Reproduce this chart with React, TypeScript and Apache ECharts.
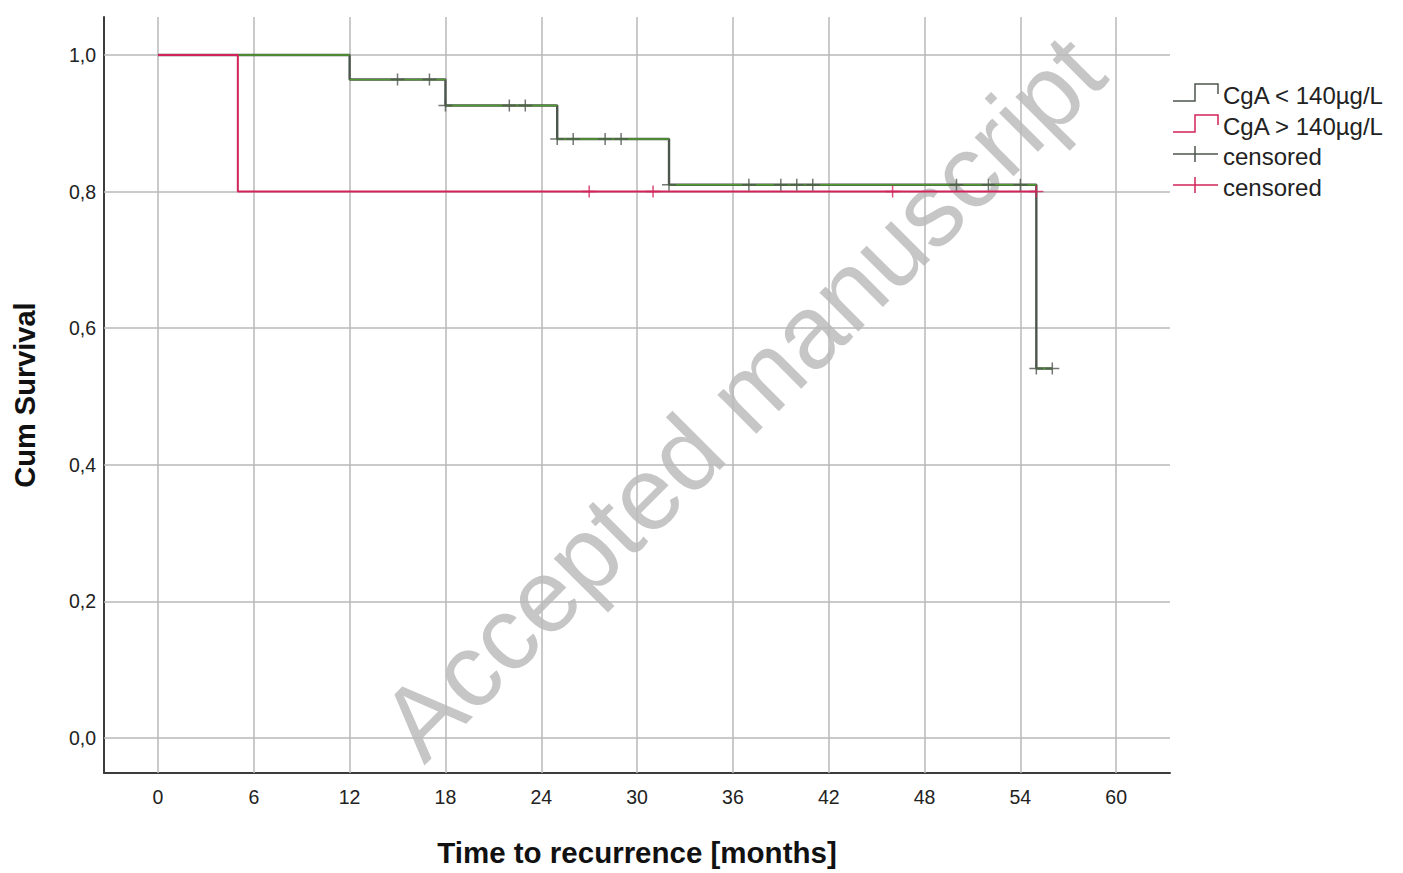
import React, { useEffect, useRef } from "react";
import * as echarts from "echarts";

// ---- data ----
const xTicks = [0, 6, 12, 18, 24, 30, 36, 42, 48, 54, 60];
const yTicks = [0, 0.2, 0.4, 0.6, 0.8, 1.0];

// CgA < 140 µg/L (green group) step curve
const lowTimes = [0, 12, 18, 25, 32, 55];
const lowSurv = [1.0, 0.964, 0.926, 0.877, 0.81, 0.541];
const lowEnd = 56;
const lowCensored = [15, 17, 18, 22, 23, 25, 26, 28, 29, 32, 37, 39, 40, 41, 50, 52, 54, 55, 56];

// CgA > 140 µg/L (red group) step curve
const highTimes = [0, 5];
const highSurv = [1.0, 0.8];
const highEnd = 55;
const highCensored = [27, 31, 46, 55];

const legendLabels = ["CgA < 140µg/L", "CgA > 140µg/L", "censored", "censored"];

const X_MIN = -3.38;
const X_MAX = 63.37;
const Y_MIN = -0.0512;
const Y_MAX = 1.0556;

const GREEN_DARK = "#4d564d";
const GREEN = "#4f9a2e";
const RED = "#d2235a";
const GRID = "#b9b9b9";
const FONT = '"Liberation Sans", Arial, sans-serif';

function stepPoints(times: number[], surv: number[], end: number) {
  const pts: (number | string)[][] = times.map((t, i) => [t, surv[i]]);
  pts.push([end, surv[surv.length - 1]]);
  return pts;
}

function horizontalSegments(times: number[], surv: number[], end: number) {
  const pts: (number | string)[][] = [];
  for (let i = 0; i < times.length; i++) {
    const next = i + 1 < times.length ? times[i + 1] : end;
    pts.push([times[i], surv[i]]);
    pts.push([next, surv[i]]);
    pts.push([next, "-"]);
  }
  return pts;
}

function survAt(times: number[], surv: number[], t: number) {
  let v = surv[0];
  for (let i = 0; i < times.length; i++) {
    if (times[i] <= t) v = surv[i];
  }
  return v;
}

const CROSS = "path://M6.25,0 H7.75 V5.25 H14 V6.75 H7.75 V12 H6.25 V6.75 H0 V5.25 H6.25 Z";

export default function App() {
  const ref = useRef<HTMLDivElement>(null);

  useEffect(() => {
    if (!ref.current) return;
    const chart = echarts.init(ref.current, null, { renderer: "svg" });

    const rowY = [95, 126, 156, 187];
    const legendGraphics: any[] = [];
    const iconColors = [GREEN_DARK, RED, GREEN_DARK, RED];
    rowY.forEach((y, i) => {
      const c = iconColors[i];
      if (i < 2) {
        legendGraphics.push({
          type: "polyline",
          shape: { points: [[1173, y + 6], [1195, y + 6], [1195, y - 11], [1218, y - 11], [1218, y - 1]] },
          style: { stroke: c, lineWidth: 1.5, fill: null },
        });
      } else {
        legendGraphics.push({
          type: "line",
          shape: { x1: 1173, y1: y - 2, x2: 1218, y2: y - 2 },
          style: { stroke: c, lineWidth: 1.5 },
        });
        legendGraphics.push({
          type: "line",
          shape: { x1: 1195, y1: y - 10, x2: 1195, y2: y + 6 },
          style: { stroke: c, lineWidth: 1.5 },
        });
      }
      legendGraphics.push({
        type: "text",
        x: 1223,
        y: y,
        style: { text: legendLabels[i], font: `24px ${FONT}`, fill: "#222", align: "left", verticalAlign: "middle" },
      });
    });

    const option: any = {
      animation: false,
      backgroundColor: "#ffffff",
      grid: { left: 104, top: 17, width: 1066, height: 756 },
      xAxis: {
        type: "value",
        min: X_MIN,
        max: X_MAX,
        axisLine: { show: true, onZero: false, lineStyle: { color: "#3c3c3c", width: 2 } },
        axisTick: { show: false },
        splitLine: { show: false },
        axisLabel: {
          customValues: xTicks,
          formatter: (v: number) => String(Math.round(v)),
          margin: 14,
          fontSize: 19.5,
          color: "#222",
          fontFamily: FONT,
        },
      },
      yAxis: {
        type: "value",
        min: Y_MIN,
        max: Y_MAX,
        axisLine: { show: true, onZero: false, lineStyle: { color: "#3c3c3c", width: 2 } },
        axisTick: { show: false },
        splitLine: { show: false },
        axisLabel: {
          customValues: yTicks,
          formatter: (v: number) => v.toFixed(1).replace(".", ","),
          margin: 8,
          fontSize: 19.5,
          color: "#222",
          fontFamily: FONT,
        },
      },
      series: [
        {
          type: "line",
          name: "grid",
          z: 1,
          silent: true,
          data: [[0, 0]],
          symbol: "none",
          lineStyle: { opacity: 0 },
          markLine: {
            z: 1,
            silent: true,
            symbol: ["none", "none"],
            label: { show: false },
            lineStyle: { color: GRID, width: 1.5, type: "solid" },
            data: [
              ...xTicks.map((t) => ({ xAxis: t })),
              ...yTicks.map((t) => ({ yAxis: t })),
            ],
          },
        },
        {
          type: "line",
          name: "low-base",
          z: 3,
          step: "end",
          symbol: "none",
          data: stepPoints(lowTimes, lowSurv, lowEnd),
          lineStyle: { color: GREEN_DARK, width: 2.4 },
        },
        {
          type: "line",
          name: "low-green",
          z: 4,
          symbol: "none",
          connectNulls: false,
          data: horizontalSegments(lowTimes, lowSurv, lowEnd),
          lineStyle: { color: GREEN, width: 1.3 },
        },
        {
          type: "line",
          name: "high",
          z: 5,
          step: "end",
          symbol: "none",
          data: stepPoints(highTimes, highSurv, highEnd),
          lineStyle: { color: RED, width: 2 },
        },
        {
          type: "scatter",
          name: "low-censored",
          z: 6,
          symbol: CROSS,
          symbolSize: [14, 12],
          itemStyle: { color: GREEN_DARK },
          data: lowCensored.map((t) => [t, survAt(lowTimes, lowSurv, t)]),
        },
        {
          type: "scatter",
          name: "high-censored",
          z: 7,
          symbol: CROSS,
          symbolSize: [14, 12],
          itemStyle: { color: RED },
          data: highCensored.map((t) => [t, survAt(highTimes, highSurv, t)]),
        },
      ],
      graphic: [
        {
          type: "text",
          z: -10,
          x: 742,
          y: 397,
          rotation: Math.PI / 4,
          style: {
            text: "Accepted manuscript",
            font: `104px ${FONT}`,
            fill: "#c6c6c6",
            align: "center",
            verticalAlign: "middle",
          },
        },
        {
          type: "text",
          x: 25,
          y: 395,
          rotation: Math.PI / 2,
          style: {
            text: "Cum Survival",
            font: `bold 29px ${FONT}`,
            fill: "#111",
            align: "center",
            verticalAlign: "middle",
          },
        },
        {
          type: "text",
          x: 637,
          y: 852,
          style: {
            text: "Time to recurrence [months]",
            font: `bold 29.5px ${FONT}`,
            fill: "#111",
            align: "center",
            verticalAlign: "middle",
          },
        },
        ...legendGraphics,
      ],
    };

    chart.setOption(option);
    return () => chart.dispose();
  }, []);

  return (
    <div
      ref={ref}
      style={{ position: "absolute", left: 0, top: 0, width: 1403, height: 873, background: "#fff" }}
    />
  );
}
